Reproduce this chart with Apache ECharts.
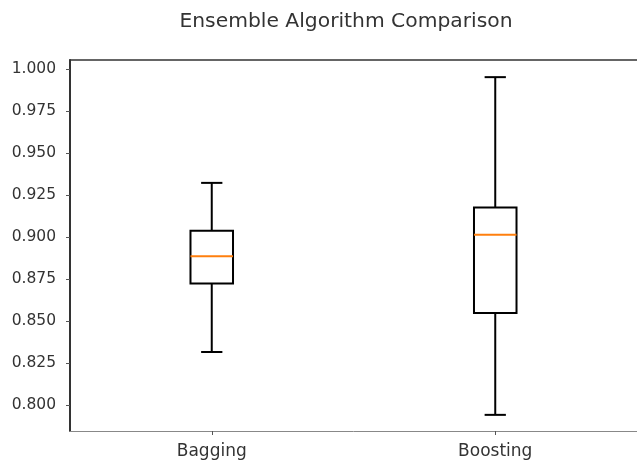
<!DOCTYPE html>
<html>
<head>
<meta charset="utf-8">
<script src="https://cdn.jsdelivr.net/npm/echarts@6/dist/echarts.min.js"></script>
<style>html,body{margin:0;padding:0;background:#fff;}#c{width:637px;height:460px;}</style>
</head>
<body>
<div id="c"></div>
<script>
// Data
var categories = ['Bagging', 'Boosting'];
var whiskerLow  = [0.8316, 0.7942];
var quartile1   = [0.8724, 0.8548];
var medians     = [0.8886, 0.9013];
var quartile3   = [0.9037, 0.9176];
var whiskerHigh = [0.9322, 0.9951];
var yTickValues = [0.800, 0.825, 0.850, 0.875, 0.900, 0.925, 0.950, 0.975, 1.000];
var titleText = 'Ensemble Algorithm Comparison';

var boxData = categories.map(function (c, i) {
  return [i, whiskerLow[i], quartile1[i], medians[i], quartile3[i], whiskerHigh[i]];
});

var chart = echarts.init(document.getElementById('c'), null, {renderer: 'canvas'});
var FONT = 'DejaVu Sans';
var TXT = '#333';

function renderBox(params, api) {
  var idx = api.value(0);
  var pLow = api.coord([idx, api.value(1)]);
  var pQ1 = api.coord([idx, api.value(2)]);
  var pMed = api.coord([idx, api.value(3)]);
  var pQ3 = api.coord([idx, api.value(4)]);
  var pHigh = api.coord([idx, api.value(5)]);
  var band = api.size([1, 0])[0];
  var cx = pMed[0];
  var hw = band * 0.15 / 2;
  var cw = hw / 2;
  var ls = {stroke: '#000', lineWidth: 2, fill: null};
  return {
    type: 'group',
    children: [
      {type: 'line', shape: {x1: cx, y1: pQ3[1], x2: cx, y2: pHigh[1]}, style: ls},
      {type: 'line', shape: {x1: cx, y1: pQ1[1], x2: cx, y2: pLow[1]}, style: ls},
      {type: 'line', shape: {x1: cx - cw, y1: pHigh[1], x2: cx + cw, y2: pHigh[1]}, style: ls},
      {type: 'line', shape: {x1: cx - cw, y1: pLow[1], x2: cx + cw, y2: pLow[1]}, style: ls},
      {type: 'rect', shape: {x: cx - hw, y: pQ3[1], width: hw * 2, height: pQ1[1] - pQ3[1]}, style: {stroke: '#000', lineWidth: 2, fill: 'rgba(0,0,0,0)'}},
      {type: 'line', shape: {x1: cx - hw, y1: pMed[1], x2: cx + hw, y2: pMed[1]}, style: {stroke: '#ff7f0e', lineWidth: 2}}
    ]
  };
}

var option = {
  backgroundColor: '#fff',
  animation: false,
  graphic: [{
    type: 'text', x: 346, y: 22,
    style: {text: titleText, align: 'center', verticalAlign: 'middle', font: '20.3px "DejaVu Sans"', fill: TXT}
  }],
  grid: {left: 70, top: 60, right: -5, bottom: 28, containLabel: false},
  xAxis: [{
    type: 'category', data: categories, position: 'bottom', boundaryGap: true,
    axisLine: {show: true, lineStyle: {color: '#888', width: 1}},
    axisTick: {show: true, alignWithLabel: true, length: 4, lineStyle: {color: '#555'}},
    axisLabel: {fontFamily: FONT, fontSize: 17, color: TXT, margin: 12},
    splitLine: {show: false}
  }, {
    type: 'category', data: categories, position: 'top', boundaryGap: true,
    axisLine: {show: true, lineStyle: {color: '#333', width: 1.5}},
    axisTick: {show: false}, axisLabel: {show: false}, splitLine: {show: false}
  }],
  yAxis: {
    type: 'value', min: 0.7846, max: 1.0053,
    axisLine: {show: true, lineStyle: {color: '#333', width: 2}},
    axisTick: {show: true, length: 4, customValues: yTickValues, lineStyle: {color: '#555'}},
    axisLabel: {fontFamily: FONT, fontSize: 15.5, color: TXT, margin: 14, customValues: yTickValues,
      formatter: function (v) { return v.toFixed(3); }},
    splitLine: {show: false}
  },
  series: [{
    type: 'custom', renderItem: renderBox, data: boxData,
    encode: {x: 0, y: [1, 2, 3, 4, 5]}, clip: false
  }]
};
chart.setOption(option);
</script>
</body>
</html>
